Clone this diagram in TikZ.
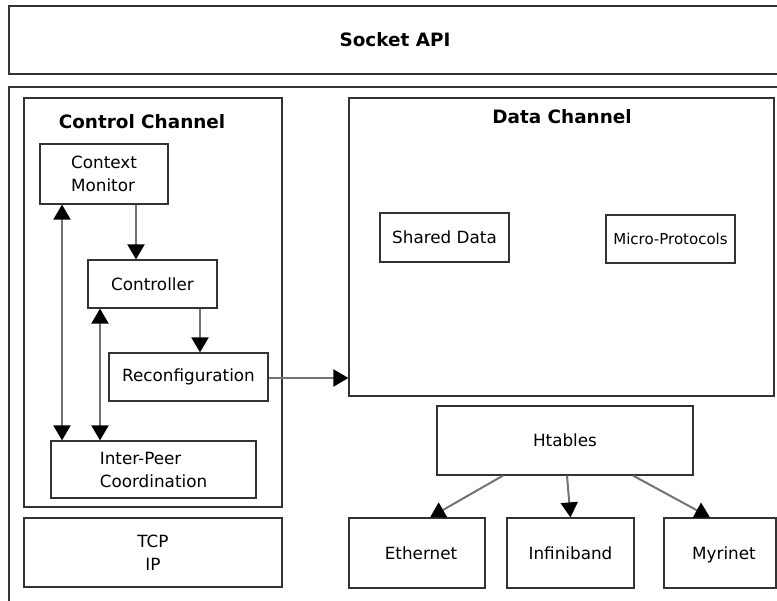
\documentclass[tikz,border=0pt]{standalone}
\usepackage{fontspec}
\setmainfont{DejaVu Sans}
\usetikzlibrary{arrows.meta}

\begin{document}
\begin{tikzpicture}[x=1pt, y=-1pt,
      box/.style = {draw=black!80, line width=1.2pt, inner sep=0pt, align=center,
                    font=\fontsize{16.8}{23}\selectfont},
      net/.style = {box, minimum height=70pt, text height=13pt, text depth=0pt},
      title/.style = {font=\bfseries\fontsize{18.4}{22}\selectfont},
      flow/.style = {draw=black!55, line width=2pt},
      >={Triangle[length=15pt,width=17pt,color=black]}
      ]
      \useasboundingbox (0,0) rectangle (777,601);
      \node[box, title, minimum width=772pt, minimum height=68pt] (api) at (395,40) {Socket API};
      \node[box, minimum width=772pt, minimum height=518pt] (core) at (395,346) {};

      \node[box, minimum width=258pt, minimum height=409pt] (cc) at (153,302.5) {};
      \node[title] (cct) at (142,122) {Control Channel};
      \node[box, align=left, minimum width=128pt, minimum height=60pt] (cm) at (104,174) {Context\\Monitor};
      \node[box, minimum width=129pt, minimum height=48pt] (ctl) at (152.5,284) {Controller};
      \node[box, minimum width=159pt, minimum height=48pt] (rec) at (188.5,377) {Reconfiguration};
      \node[box, align=left, minimum width=205pt, minimum height=57pt] (ipc) at (153.5,469.5) {Inter-Peer\\Coordination};
      \node[box, minimum width=258pt, minimum height=69pt] (tcp) at (153,552.5) {TCP\\IP};

      \node[box, minimum width=425pt, minimum height=298pt] (dc) at (561.5,247) {};
      \node[title] (dct) at (562,117) {Data Channel};
      \node[box, minimum width=129pt, minimum height=49pt] (sd) at (444.5,237.5) {Shared Data};
      \node[box, minimum width=129pt, minimum height=48pt, font=\fontsize{15}{18}\selectfont] (mp) at (670.5,239) {Micro-Protocols};
      \node[box, minimum width=256pt, minimum height=69pt] (ht) at (565,440.5) {Htables};
      \node[net, minimum width=136pt] (eth) at (417,553) {\hspace*{8pt}Ethernet};
      \node[net, minimum width=127pt] (inf) at (570.5,553) {Infiniband};
      \node[net, minimum width=112pt] (myr) at (720,553) {\hspace*{8pt}Myrinet};

      \draw[flow,->] ([xshift=32pt]cm.south) -- ([xshift=-16.5pt]ctl.north);
      \draw[flow,<->] ([xshift=-42pt]cm.south) -- ([xshift=-42pt]cm.south |- ipc.north);
      \draw[flow,<->] ([xshift=-52.5pt]ctl.south) -- ([xshift=-52.5pt]ctl.south |- ipc.north);
      \draw[flow,->] ([xshift=47.5pt]ctl.south) -- ([xshift=47.5pt]ctl.south |- rec.north);
      \draw[flow,->] ([yshift=-1pt]rec.east) -- ([yshift=-1pt]rec.east -| dc.west);
      \draw[flow,->] ([xshift=-62pt]ht.south) -- ([xshift=13pt]eth.north);
      \draw[flow,->] ([xshift=2pt]ht.south) -- (inf.north);
      \draw[flow,->] ([xshift=68pt]ht.south) -- ([xshift=-10pt]myr.north);
\end{tikzpicture}
\end{document}
